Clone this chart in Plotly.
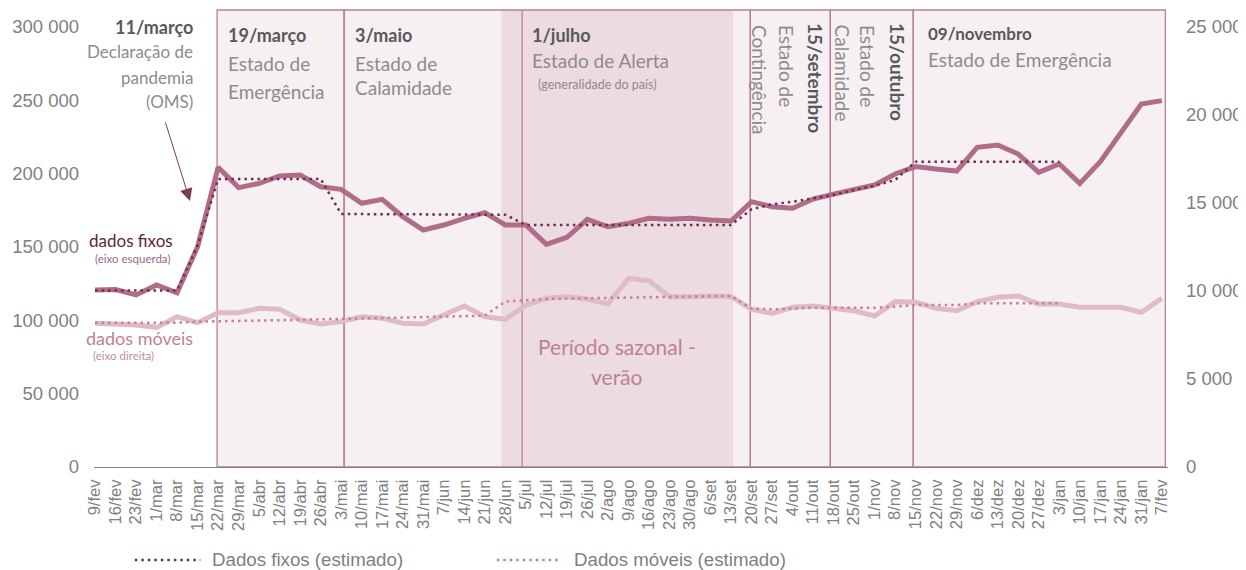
import plotly.graph_objects as go

# semanas (eixo x)
semanas = ["9/fev", "16/fev", "23/fev", "1/mar", "8/mar", "15/mar", "22/mar", "29/mar",
           "5/abr", "12/abr", "19/abr", "26/abr", "3/mai", "10/mai", "17/mai", "24/mai",
           "31/mai", "7/jun", "14/jun", "21/jun", "28/jun", "5/jul", "12/jul", "19/jul",
           "26/jul", "2/ago", "9/ago", "16/ago", "23/ago", "30/ago", "6/set", "13/set",
           "20/set", "27/set", "4/out", "11/out", "18/out", "25/out", "1/nov", "8/nov",
           "15/nov", "22/nov", "29/nov", "6/dez", "13/dez", "20/dez", "27/dez", "3/jan",
           "10/jan", "17/jan", "24/jan", "31/jan", "7/fev"]

# dados fixos (eixo esquerda)
fixos = [120700, 121000, 117300, 124100, 118800, 150200, 204300, 190500,
         193400, 198400, 199100, 191100, 189300, 179800, 182500, 170700,
         161600, 165000, 169500, 173400, 165000, 165000, 151800, 156600,
         168900, 163800, 166100, 169600, 168900, 169600, 168400, 167700,
         180900, 177500, 176400, 182700, 186100, 188900, 192300, 199800,
         204800, 203200, 201800, 218000, 219500, 213400, 200900, 206600,
         193400, 208200, 227500, 247500, 249800]

fixos_est = [120300, 120300, 120300, 120300, 120300, 151000, 196400, 196400,
             196400, 196400, 196400, 196400, 172500, 172500, 172500, 172500,
             172500, 172500, 172500, 172500, 172000, 165000, 165000, 165000,
             165000, 165000, 165000, 165000, 165000, 165000, 165000, 165000,
             175700, 179100, 180900, 183400, 185500, 188900, 191800, 195700,
             208200, 208200, 208200, 208200, 208200, 208200, 208200, 208200,
             None, None, None, None, None]

# dados moveis (eixo direita)
moveis = [8165, 8125, 8070, 7935, 8540, 8200, 8770, 8770,
          9015, 8960, 8350, 8125, 8260, 8540, 8450, 8165,
          8125, 8640, 9150, 8540, 8390, 9200, 9585, 9675,
          9545, 9260, 10720, 10585, 9675, 9675, 9715, 9675,
          8960, 8730, 9075, 9150, 9015, 8880, 8580, 9395,
          9355, 9015, 8880, 9395, 9640, 9715, 9260, 9260,
          9075, 9110, 9075, 8790, 9585]

moveis_est = [8200, 8200, 8200, 8200, 8200, 8260, 8300, 8300,
              8320, 8340, 8350, 8370, 8400, 8430, 8460, 8490,
              8520, 8540, 8560, 8600, 9400, 9480, 9550, 9570,
              9590, 9610, 9630, 9650, 9670, 9690, 9710, 9720,
              9000, 8960, 9000, 9050, 9050, 9050, 9050, 9120,
              9200, 9200, 9200, 9300, 9300, 9300, 9300, 9300,
              None, None, None, None, None]

ticks_esq = [0, 50000, 100000, 150000, 200000, 250000, 300000]
ticks_dir = [0, 5000, 10000, 15000, 20000, 25000]

# cores
c_fixo = "#b06c88"
c_fixo_est = "#6e2e4e"
c_movel = "#dfbac8"
c_movel_est = "#c77f9f"
c_borda = "#bf7d99"
c_claro = "#f7f0f3"
c_escuro = "#ecdbe1"
c_cinza = "#808080"
c_texto = "#8c8c8c"
c_titulo = "#595959"

fig = go.Figure()

fig.add_trace(go.Scatter(x=semanas, y=moveis, yaxis="y2", mode="lines",
                         line=dict(color=c_movel, width=5), showlegend=False))
fig.add_trace(go.Scatter(x=semanas, y=fixos, mode="lines",
                         line=dict(color=c_fixo, width=5), showlegend=False))
fig.add_trace(go.Scatter(x=semanas, y=moveis_est, yaxis="y2", mode="lines",
                         line=dict(color=c_movel_est, width=2.5, dash="2.5px,4px"),
                         showlegend=False))
fig.add_trace(go.Scatter(x=semanas, y=fixos_est, mode="lines",
                         line=dict(color=c_fixo_est, width=2.5, dash="2.5px,4px"),
                         showlegend=False))

# periodos (em indice de semana)
periodos = [(5.95, 12.14), (12.14, 31.94), (31.94, 35.84), (35.84, 39.88), (39.88, 52.17)]
shapes = []
for a, b in periodos:
    shapes.append(dict(type="rect", xref="x", yref="paper", x0=a, x1=b, y0=0, y1=1,
                       fillcolor=c_claro, line=dict(width=0), layer="below"))
shapes.append(dict(type="rect", xref="x", yref="paper", x0=19.8, x1=31.1, y0=0, y1=1,
                   fillcolor=c_escuro, line=dict(width=0), layer="below"))
for a, b in periodos:
    shapes.append(dict(type="rect", xref="x", yref="paper", x0=a, x1=b, y0=0, y1=1,
                       fillcolor="rgba(0,0,0,0)", line=dict(color=c_borda, width=1.3),
                       layer="below"))
shapes.append(dict(type="line", xref="x", yref="paper", x0=20.82, x1=20.82, y0=0, y1=1,
                   line=dict(color=c_borda, width=1.3), layer="below"))

# legenda manual
shapes.append(dict(type="line", xref="paper", yref="paper", x0=0.038, x1=0.099,
                   y0=-0.2035, y1=-0.2035, line=dict(color=c_fixo_est, width=2.5, dash="2.5px,4px")))
shapes.append(dict(type="line", xref="paper", yref="paper", x0=0.375, x1=0.434,
                   y0=-0.2035, y1=-0.2035, line=dict(color=c_movel_est, width=2.5, dash="2.5px,4px")))


def px_x(px):
    return (px - 95.03) / 20.516


def px_y(py):
    return (467 - py) / 457


anns = []


def txt(text, x, y, size, color, xanchor="left", bold=False, angle=0, yanchor="middle",
        family="Lato"):
    if bold:
        text = "<b>" + text + "</b>"
    anns.append(dict(text=text, x=px_x(x), y=px_y(y), xref="x", yref="paper",
                     xanchor=xanchor, yanchor=yanchor, showarrow=False, textangle=angle,
                     font=dict(family=family, size=size, color=color)))


txt("11/março", 195, 27, 18, c_titulo, xanchor="right", bold=True)
txt("Declaração de", 195, 52, 17, c_texto, xanchor="right")
txt("pandemia", 195, 77, 17, c_texto, xanchor="right")
txt("(OMS)", 195, 101, 17, c_texto, xanchor="right")

txt("19/março", 226, 35, 18, c_titulo, bold=True)
txt("Estado de", 226, 63, 19, c_texto)
txt("Emergência", 226, 91, 19, c_texto)

txt("3/maio", 353, 35, 18, c_titulo, bold=True)
txt("Estado de", 353, 63, 19, c_texto)
txt("Calamidade", 353, 88, 19, c_texto)

txt("1/julho", 530, 35, 18, c_titulo, bold=True)
txt("Estado de Alerta", 530, 61, 19, c_texto)
txt("(generalidade do país)", 536, 84, 12.5, c_texto)

txt("Contingência", 760, 23, 19, c_texto, xanchor="center", angle=90, yanchor="top")
txt("Estado de", 787, 23, 19, c_texto, xanchor="center", angle=90, yanchor="top")
txt("15/setembro", 815, 21, 19, c_titulo, xanchor="center", angle=90, yanchor="top", bold=True)

txt("Calamidade", 843, 23, 19, c_texto, xanchor="center", angle=90, yanchor="top")
txt("Estado de", 868, 23, 19, c_texto, xanchor="center", angle=90, yanchor="top")
txt("15/outubro", 897, 21, 19, c_titulo, xanchor="center", angle=90, yanchor="top", bold=True)

txt("09/novembro", 926, 33, 17, c_titulo, bold=True)
txt("Estado de Emergência", 926, 59, 19, c_texto)

txt("dados fixos", 131, 241, 17, "#5e2541", xanchor="center")
txt("(eixo esquerda)", 132, 258, 11.5, "#9b6684", xanchor="center")
txt("dados móveis", 139, 338, 18, "#c0819b", xanchor="center")
txt("(eixo direita)", 123, 355, 11.5, "#c889a4", xanchor="center")

txt("Período sazonal -", 617, 346, 21, "#c0809a", xanchor="center")
txt("verão", 617, 376, 21, "#c0809a", xanchor="center")

# seta OMS
anns.append(dict(x=px_x(190), y=px_y(201), xref="x", yref="paper", text="",
                 showarrow=True, ax=-25, ay=-80, arrowcolor="#7a3b5c",
                 arrowwidth=1, arrowhead=2, arrowsize=2.5))

# textos da legenda
anns.append(dict(text="Dados fixos (estimado)", x=(210 - 94) / 1074, y=-0.2035,
                 xref="paper", yref="paper", xanchor="left", yanchor="middle", showarrow=False,
                 font=dict(family="Liberation Sans", size=18.7, color=c_cinza)))
anns.append(dict(text="Dados móveis (estimado)", x=(572 - 94) / 1074, y=-0.2035,
                 xref="paper", yref="paper", xanchor="left", yanchor="middle", showarrow=False,
                 font=dict(family="Liberation Sans", size=18.7, color=c_cinza)))

# a pagina tem 8px de margem no body -> figura um pouco menor
fig.update_layout(
    width=1238, height=562,
    margin=dict(l=86, r=78, t=2, b=103, autoexpand=False),
    plot_bgcolor="white", paper_bgcolor="white",
    separators=", ",
    shapes=shapes, annotations=anns,
    xaxis=dict(type="category", range=[-0.05, 52.3], tickangle=-90, showgrid=False,
               showline=True, linecolor=c_cinza, linewidth=1, ticks="", zeroline=False,
               tickfont=dict(family="Liberation Sans", size=16.5, color=c_cinza),
               ticklabelstandoff=5, automargin=False),
    yaxis=dict(range=[0, 311600], tickvals=ticks_esq, tickformat=",", showgrid=False,
               zeroline=False, showline=False, ticks="", ticklabelstandoff=14,
               automargin=False,
               tickfont=dict(family="Liberation Sans", size=18.5, color=c_cinza)),
    yaxis2=dict(range=[0, 311600 / 12], tickvals=ticks_dir, tickformat=",", overlaying="y",
                side="right", showgrid=False, zeroline=False, showline=False, ticks="",
                ticklabelstandoff=17, automargin=False,
                tickfont=dict(family="Liberation Sans", size=18.5, color=c_cinza)),
)

fig.write_html("out.html")
